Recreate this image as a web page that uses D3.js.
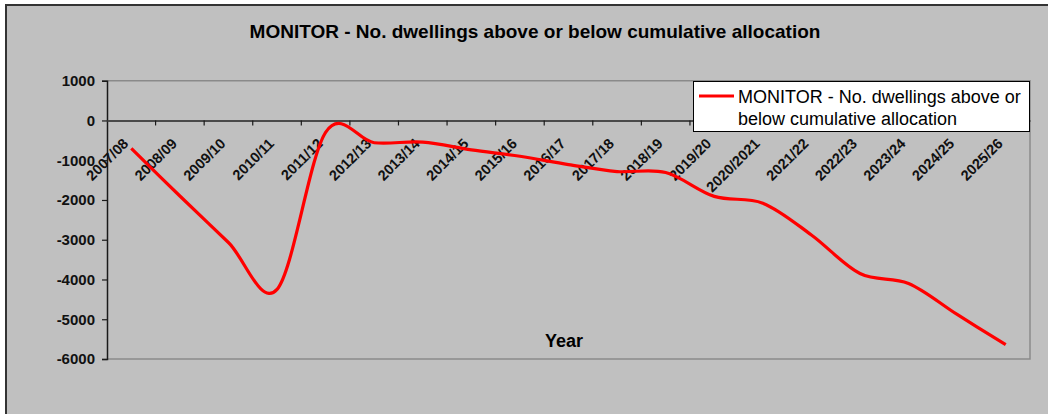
<!DOCTYPE html>
<html>
<head>
<meta charset="utf-8">
<script src="https://cdn.jsdelivr.net/npm/d3@7"></script>
<style>
  html, body { margin: 0; padding: 0; background: #ffffff; }
  svg { display: block; }
</style>
</head>
<body>
<svg id="chart" width="1048" height="414"></svg>
<script>
// Financial years along the category axis
const years = ["2007/08", "2008/09", "2009/10", "2010/11", "2011/12", "2012/13",
  "2013/14", "2014/15", "2015/16", "2016/17", "2017/18", "2018/19", "2019/20",
  "2020/2021", "2021/22", "2022/23", "2023/24", "2024/25", "2025/26"];

// Dwellings above (+) or below (-) the cumulative allocation
const dwellings = [-700, -1900, -3070, -4250, -300, -560, -545, -740, -900,
  -1110, -1285, -1310, -1910, -2080, -2880, -3850, -4100, -4880, -5640];

const yTicks = [1000, 0, -1000, -2000, -3000, -4000, -5000, -6000];

const titleText = "MONITOR - No. dwellings above or below cumulative allocation";
const legendLines = ["MONITOR - No. dwellings above or", "below cumulative allocation"];
const xTitle = "Year";

const svg = d3.select("#chart");
const font = "Arial, 'Liberation Sans', sans-serif";

// chart area
svg.append("rect")
  .attr("x", 6).attr("y", 5).attr("width", 1060).attr("height", 430)
  .attr("fill", "#c0c0c0").attr("stroke", "#333333").attr("stroke-width", 2);

const plot = { left: 107, right: 1030, top: 80.7, bottom: 359 };

const x = d3.scaleBand().domain(years).range([plot.left, plot.right]);
const y = d3.scaleLinear().domain([-6000, 1000]).range([plot.bottom, plot.top]);

// plot frame (top, right, bottom)
svg.append("path")
  .attr("d", `M${plot.left},${y(1000)}H${plot.right}V${y(-6000)}H${plot.left}`)
  .attr("fill", "none").attr("stroke", "#8a8a8a").attr("stroke-width", 1.5);

// value axis (plain hyphen for negatives)
const yAxis = svg.append("g")
  .attr("transform", `translate(${plot.left},0)`)
  .call(d3.axisLeft(y).tickValues(yTicks).tickSize(5).tickPadding(7)
    .tickFormat(d => String(d)));
yAxis.select(".domain").attr("stroke", "#1a1a1a").attr("stroke-width", 1.5);
yAxis.selectAll(".tick line").attr("stroke", "#1a1a1a").attr("stroke-width", 1.2);
yAxis.selectAll(".tick text")
  .attr("font-family", font).attr("font-size", 15).attr("font-weight", "bold")
  .attr("fill", "#111");

// category axis crossing at zero
const xAxis = svg.append("g")
  .attr("transform", `translate(0,${y(0)})`)
  .call(d3.axisBottom(x).tickSize(0).tickFormat(""));
xAxis.select(".domain").attr("stroke", "#4a4a4a").attr("stroke-width", 2);
xAxis.selectAll(".tick").remove();

// tick marks at category boundaries
const bounds = years.slice(1).map(d => x(d));
svg.append("g").selectAll("line").data(bounds).join("line")
  .attr("x1", d => d).attr("x2", d => d)
  .attr("y1", y(0)).attr("y2", y(0) + 5)
  .attr("stroke", "#1a1a1a").attr("stroke-width", 1.2);

// rotated category labels
svg.append("g").selectAll("text").data(years).join("text")
  .attr("transform", d => `translate(${x(d) + x.bandwidth() / 2 - 2},${y(0) + 24}) rotate(-45)`)
  .attr("text-anchor", "end")
  .attr("font-family", font).attr("font-size", 14.5).attr("font-weight", "bold")
  .attr("fill", "#111")
  .text(d => d);

// smoothed series line
const line = d3.line()
  .x((d, i) => x(years[i]) + x.bandwidth() / 2)
  .y(d => y(d))
  .curve(d3.curveCardinal.tension(0));

svg.append("path")
  .datum(dwellings)
  .attr("d", line)
  .attr("fill", "none").attr("stroke", "#ff0000").attr("stroke-width", 3.2)
  .attr("stroke-linejoin", "round").attr("stroke-linecap", "butt");

// title
svg.append("text")
  .attr("x", 535).attr("y", 38)
  .attr("text-anchor", "middle")
  .attr("font-family", font).attr("font-size", 19).attr("font-weight", "bold")
  .attr("fill", "#000")
  .text(titleText);

// axis title
svg.append("text")
  .attr("x", 564).attr("y", 347)
  .attr("text-anchor", "middle")
  .attr("font-family", font).attr("font-size", 18).attr("font-weight", "bold")
  .attr("fill", "#000")
  .text(xTitle);

// legend
const legend = svg.append("g");
legend.append("rect")
  .attr("x", 693.5).attr("y", 81.5).attr("width", 336).attr("height", 50)
  .attr("fill", "#ffffff").attr("stroke", "#000000").attr("stroke-width", 1);
legend.append("line")
  .attr("x1", 699).attr("x2", 734).attr("y1", 96).attr("y2", 96)
  .attr("stroke", "#ff0000").attr("stroke-width", 3.2);
legend.selectAll("text.item").data(legendLines).join("text")
  .attr("class", "item")
  .attr("x", 738).attr("y", (d, i) => 102.5 + i * 22)
  .attr("font-family", font).attr("font-size", 18)
  .attr("fill", "#000")
  .text(d => d);
</script>
</body>
</html>
